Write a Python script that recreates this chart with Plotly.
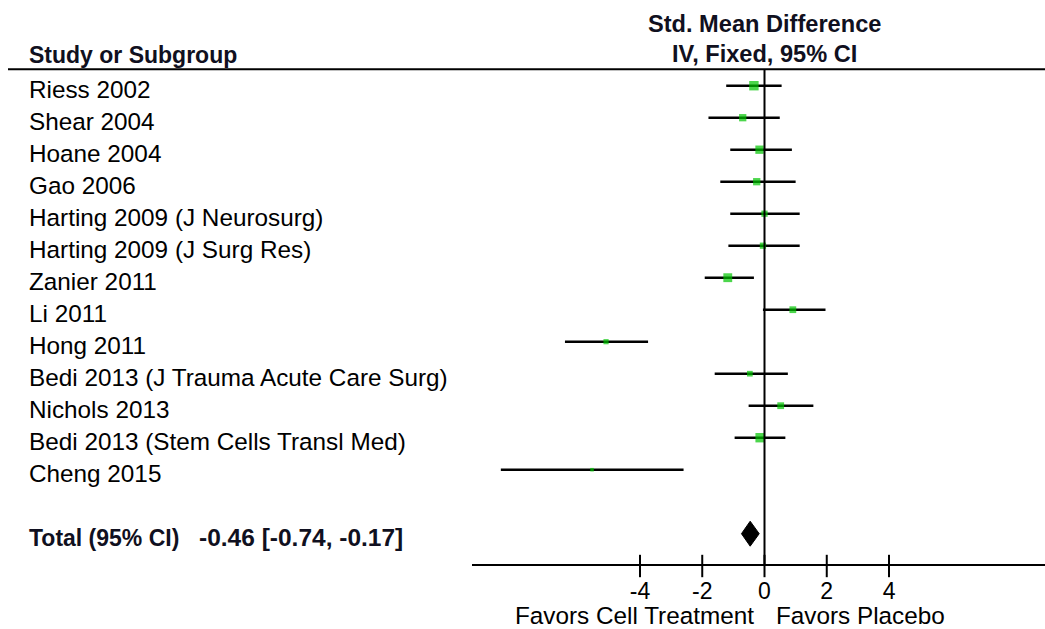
import plotly.graph_objects as go

# ---------------- data ----------------
studies = [
    "Riess 2002",
    "Shear 2004",
    "Hoane 2004",
    "Gao 2006",
    "Harting 2009 (J Neurosurg)",
    "Harting 2009 (J Surg Res)",
    "Zanier 2011",
    "Li 2011",
    "Hong 2011",
    "Bedi 2013 (J Trauma Acute Care Surg)",
    "Nichols 2013",
    "Bedi 2013 (Stem Cells Transl Med)",
    "Cheng 2015",
]
smd = [-0.34, -0.70, -0.16, -0.25, 0.00, -0.05, -1.18, 0.91, -5.09, -0.47, 0.52, -0.14, -5.54]
ci_low = [-1.23, -1.80, -1.10, -1.42, -1.10, -1.16, -1.92, -0.05, -6.41, -1.60, -0.51, -0.96, -8.47]
ci_high = [0.55, 0.49, 0.88, 1.00, 1.13, 1.13, -0.34, 1.96, -3.74, 0.75, 1.57, 0.67, -2.60]
weights_pct = [13.1, 7.9, 10.3, 7.9, 5.8, 5.8, 11.6, 6.8, 4.0, 4.8, 6.8, 13.1, 1.9]

total_label = "Total (95% CI)"
total_est = -0.46
total_low = -0.74
total_high = -0.17

tick_vals = [-4, -2, 0, 2, 4]
tick_text = ["-4", "-2", "0", "2", "4"]

header_left = "Study or Subgroup"
header_right_1 = "Std. Mean Difference"
header_right_2 = "IV, Fixed, 95% CI"
favors_left = "Favors Cell Treatment"
favors_right = "Favors Placebo"

# ---------------- geometry (pixel layout of the figure) ----------------
W, H = 1045, 629
FONT = "Liberation Sans, Arial, sans-serif"
GREEN = "#00c400"

# x: value v -> px = X0 + XS * v
X0, XS = 764.5, 31.13
AX_LEFT_PX = 472
x_range = [(AX_LEFT_PX - X0) / XS, (W - X0) / XS]
x_domain = [AX_LEFT_PX / W, 1.0]

# y: row r -> px = Y0 + YS * r
Y0, YS = 85.7, 32.0
y_range = [(H - Y0) / YS, (0 - Y0) / YS]  # reversed

AXIS_PX = 565
TOPLINE_PX = 69.3


def py(px):
    return 1 - px / H


rows = list(range(len(studies)))
total_row = len(studies) + 1
axis_row = (AXIS_PX + 1 - Y0) / YS

fig = go.Figure()

# CI lines
xs, ys = [], []
for r, lo, hi in zip(rows, ci_low, ci_high):
    xs += [lo, hi, None]
    ys += [r, r, None]
fig.add_trace(go.Scatter(x=xs, y=ys, mode="lines",
                         line=dict(color="black", width=2.5),
                         hoverinfo="skip", showlegend=False))

# point estimates (size ~ sqrt(weight))
sizes = [2.6 * (w ** 0.5) for w in weights_pct]
fig.add_trace(go.Scatter(x=smd, y=rows, mode="markers",
                         marker=dict(symbol="square", color=GREEN, size=sizes,
                                     line=dict(width=0)),
                         text=studies, hoverinfo="text+x", showlegend=False))

# total diamond
dh = 0.39
fig.add_trace(go.Scatter(
    x=[total_low, total_est, total_high, total_est, total_low],
    y=[total_row, total_row - dh, total_row, total_row + dh, total_row],
    mode="lines", fill="toself", fillcolor="black",
    line=dict(color="black", width=1), hoverinfo="skip", showlegend=False))

# tick marks crossing the axis line
fig.add_trace(go.Scatter(x=tick_vals, y=[axis_row] * len(tick_vals), mode="markers",
                         marker=dict(symbol="line-ns-open", size=16, color="black",
                                     line=dict(color="black", width=2)),
                         cliponaxis=False, hoverinfo="skip", showlegend=False))

shapes = [
    # top rule
    dict(type="line", xref="paper", yref="paper", x0=8 / W, x1=1, y0=py(TOPLINE_PX), y1=py(TOPLINE_PX),
         line=dict(color="black", width=2)),
    # line of no effect
    dict(type="line", xref="x", yref="paper", x0=0, x1=0, y0=py(AXIS_PX), y1=py(TOPLINE_PX),
         line=dict(color="black", width=2)),
]

label_font = dict(family=FONT, size=24.3, color="black")
annotations = []
for r, name in zip(rows, studies):
    annotations.append(dict(x=27 / W, xref="paper", y=r, yref="y", text=name,
                            xanchor="left", yanchor="middle", yshift=-4, showarrow=False,
                            font=label_font))

bold = dict(family=FONT, size=23, color="#101020")
bold_h = dict(family=FONT, size=23.6, color="#101020")
annotations += [
    dict(x=27 / W, xref="paper", y=py(55), yref="paper", text="<b>%s</b>" % header_left,
         xanchor="left", yanchor="middle", showarrow=False, font=bold),
    dict(x=0, xref="x", y=py(24), yref="paper", text="<b>%s</b>" % header_right_1,
         xanchor="center", yanchor="middle", showarrow=False, font=bold_h),
    dict(x=0, xref="x", y=py(54), yref="paper", text="<b>%s</b>" % header_right_2,
         xanchor="center", yanchor="middle", showarrow=False, font=bold_h),
    dict(x=27 / W, xref="paper", y=total_row, yref="y", text="<b>%s</b>" % total_label,
         xanchor="left", yanchor="middle", yshift=-4, showarrow=False, font=bold),
    dict(x=197 / W, xref="paper", y=total_row, yref="y",
         text="<b>%.2f [%.2f, %.2f]</b>" % (total_est, total_low, total_high),
         xanchor="left", yanchor="middle", yshift=-4, showarrow=False,
         font=dict(family=FONT, size=24.5, color="#101020")),
    dict(x=0, xref="x", y=py(615), yref="paper", text=favors_left, xshift=-9,
         xanchor="right", yanchor="middle", showarrow=False, font=label_font),
    dict(x=0, xref="x", y=py(615), yref="paper", text=favors_right, xshift=9,
         xanchor="left", yanchor="middle", showarrow=False, font=label_font),
]

fig.update_layout(
    width=W, height=H, autosize=False,
    margin=dict(l=0, r=0, t=0, b=0, pad=0),
    paper_bgcolor="white", plot_bgcolor="white",
    showlegend=False,
    xaxis=dict(domain=x_domain, range=x_range, anchor="free", position=py(AXIS_PX),
               showline=True, linecolor="black", linewidth=2,
               tickmode="array", tickvals=tick_vals, ticktext=tick_text,
               ticks="outside", ticklen=5, tickwidth=2, tickcolor="rgba(0,0,0,0)",
               tickfont=dict(family=FONT, size=23, color="black"),
               showgrid=False, zeroline=False, fixedrange=True),
    yaxis=dict(domain=[0, 1], range=y_range, visible=False, fixedrange=True),
    shapes=shapes,
    annotations=annotations,
)

fig.write_html("out.html")
